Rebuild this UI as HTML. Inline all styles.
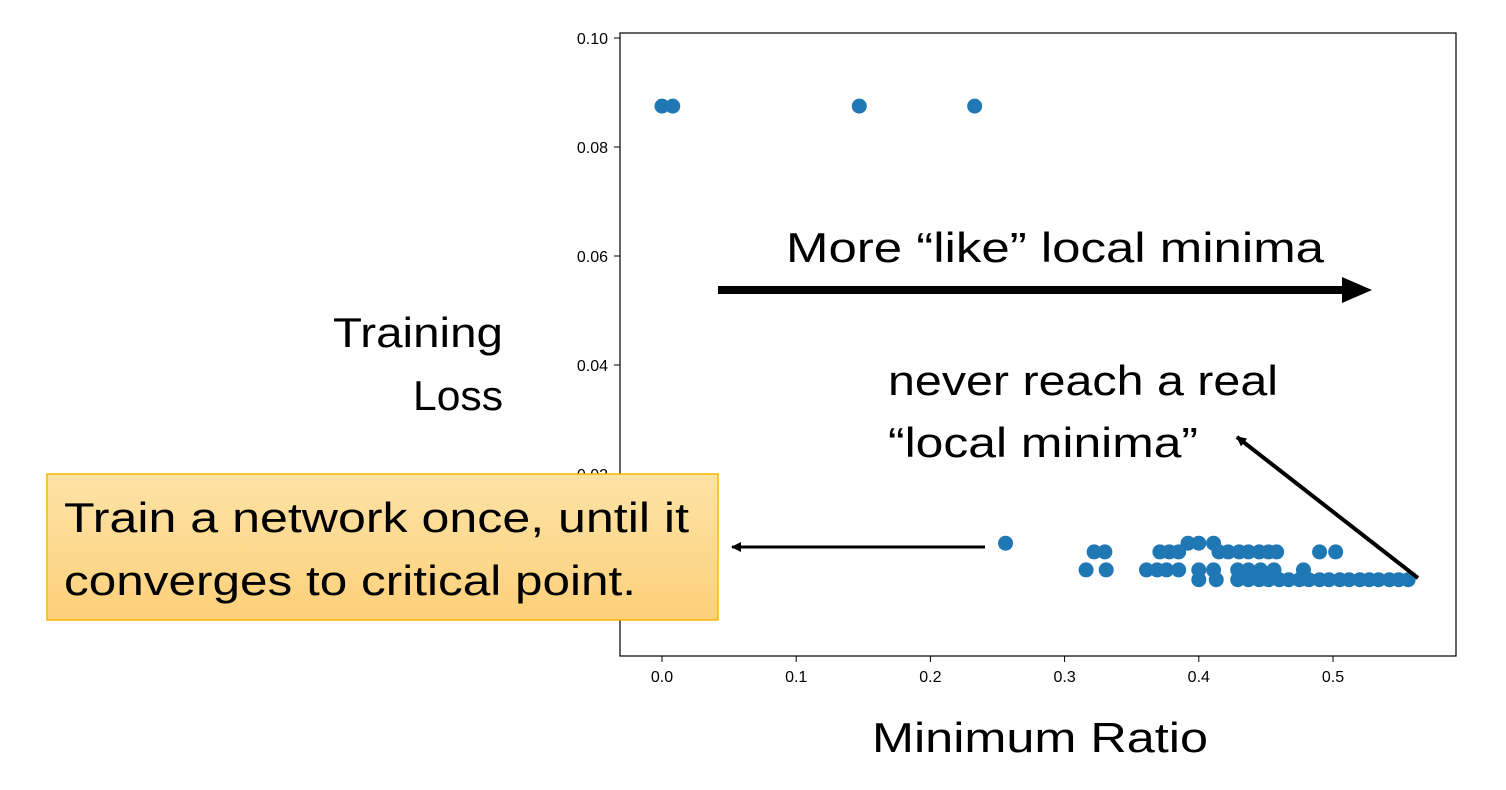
<!DOCTYPE html>
<html><head><meta charset="utf-8"><style>
html,body{margin:0;padding:0;background:#fff;}
svg{display:block;font-family:"Liberation Sans",sans-serif;}
</style></head><body>
<svg id="chart" width="1506" height="790" viewBox="0 0 1506 790">
<defs>
<linearGradient id="boxg" x1="0" y1="0" x2="0" y2="1"><stop offset="0" stop-color="#fde3a6"/><stop offset="1" stop-color="#fdd07a"/></linearGradient>
<marker id="ah" markerWidth="10" markerHeight="10" refX="9" refY="5" orient="auto" markerUnits="userSpaceOnUse"><path d="M0,0 L10,5 L0,10 z" fill="#000"/></marker>
</defs>
<g id="plot"></g>
<rect x="620" y="33" width="836" height="623" fill="none" stroke="#000" stroke-width="1.2"/>
<text x="503" y="347" font-size="42" text-anchor="end" textLength="170" lengthAdjust="spacingAndGlyphs">Training</text>
<text x="503" y="410" font-size="42" text-anchor="end" textLength="90" lengthAdjust="spacingAndGlyphs">Loss</text>
<text x="872" y="752" font-size="42" textLength="336" lengthAdjust="spacingAndGlyphs">Minimum Ratio</text>
<line x1="718" y1="290" x2="1345" y2="290" stroke="#000" stroke-width="8"/>
<path d="M1342,277 L1372,290 L1342,303 z" fill="#000"/>
<text x="786" y="262" font-size="42" textLength="538" lengthAdjust="spacingAndGlyphs">More “like” local minima</text>
<text x="888" y="395" font-size="42" textLength="390" lengthAdjust="spacingAndGlyphs">never reach a real</text>
<text x="888" y="457" font-size="42" textLength="310" lengthAdjust="spacingAndGlyphs">“local minima”</text>
<line x1="1418" y1="578" x2="1237" y2="437" stroke="#000" stroke-width="4" marker-end="url(#ah)"/>
<rect x="47" y="474" width="671" height="146" fill="url(#boxg)" stroke="#f5b800" stroke-width="1.5"/>
<text x="64" y="532" font-size="42" textLength="625" lengthAdjust="spacingAndGlyphs">Train a network once, until it</text>
<text x="64" y="595" font-size="42" textLength="572" lengthAdjust="spacingAndGlyphs">converges to critical point.</text>
<line x1="985" y1="547" x2="732" y2="547" stroke="#000" stroke-width="3" marker-end="url(#ah)"/>
</svg>
<script>
const xTicks=[0.0,0.1,0.2,0.3,0.4,0.5];
const xTickLabels=["0.0","0.1","0.2","0.3","0.4","0.5"];
const yTicks=[0.00,0.02,0.04,0.06,0.08,0.10];
const yTickLabels=["0.00","0.02","0.04","0.06","0.08","0.10"];
const ratioValues=[0.0,0.008,0.147,0.233,0.256,
0.392,0.400,0.411,
0.322,0.330,0.371,0.378,0.385,0.415,0.422,0.430,0.437,0.445,0.452,0.458,0.490,0.502,
0.316,0.331,0.361,0.369,0.376,0.385,0.400,0.411,0.429,0.437,0.446,0.456,0.478,
0.400,0.413,0.429,0.437,0.445,0.452,0.460,0.467,0.475,0.482,0.490,0.497,0.505,0.512,0.520,0.527,0.534,0.542,0.549,0.556];
const lossValues=[0.0875,0.0875,0.0875,0.0875,0.0073,
0.0073,0.0073,0.0073,
0.0057,0.0057,0.0057,0.0057,0.0057,0.0057,0.0057,0.0057,0.0057,0.0057,0.0057,0.0057,0.0057,0.0057,
0.0024,0.0024,0.0024,0.0024,0.0024,0.0024,0.0024,0.0024,0.0024,0.0024,0.0024,0.0024,0.0024,
0.0006,0.0006,0.0006,0.0006,0.0006,0.0006,0.0006,0.0006,0.0006,0.0006,0.0006,0.0006,0.0006,0.0006,0.0006,0.0006,0.0006,0.0006,0.0006,0.0006];
const NS="http://www.w3.org/2000/svg";
const g=document.getElementById('plot');
function xs(v){return 662+v*1342;}
function ys(v){return 583-v*5450;}
xTicks.forEach((t,i)=>{
 const l=document.createElementNS(NS,'line');
 l.setAttribute('x1',xs(t));l.setAttribute('x2',xs(t));l.setAttribute('y1',656);l.setAttribute('y2',662);l.setAttribute('stroke','#000');
 
 
 g.appendChild(l);
 const tx=document.createElementNS(NS,'text');
 tx.setAttribute('x',xs(t));tx.setAttribute('y',682);tx.setAttribute('font-size','16');tx.setAttribute('text-anchor','middle');
 tx.textContent=xTickLabels[i];
 
 
 g.appendChild(tx);
});
yTicks.forEach((t,i)=>{
 const l=document.createElementNS(NS,'line');
 l.setAttribute('x1',614);l.setAttribute('x2',620);l.setAttribute('y1',ys(t));l.setAttribute('y2',ys(t));l.setAttribute('stroke','#000');
 
 
 g.appendChild(l);
 const tx=document.createElementNS(NS,'text');
 tx.setAttribute('x',608);tx.setAttribute('y',ys(t)+6);tx.setAttribute('font-size','16');tx.setAttribute('text-anchor','end');
 tx.textContent=yTickLabels[i];
 
 
 g.appendChild(tx);
});
ratioValues.forEach((r,i)=>{
 const c=document.createElementNS(NS,'circle');
 c.setAttribute('cx',xs(r));c.setAttribute('cy',ys(lossValues[i]));c.setAttribute('r',7.5);c.setAttribute('fill','#1f77b4');
 
 
 g.appendChild(c);
});
</script>
</body></html>
